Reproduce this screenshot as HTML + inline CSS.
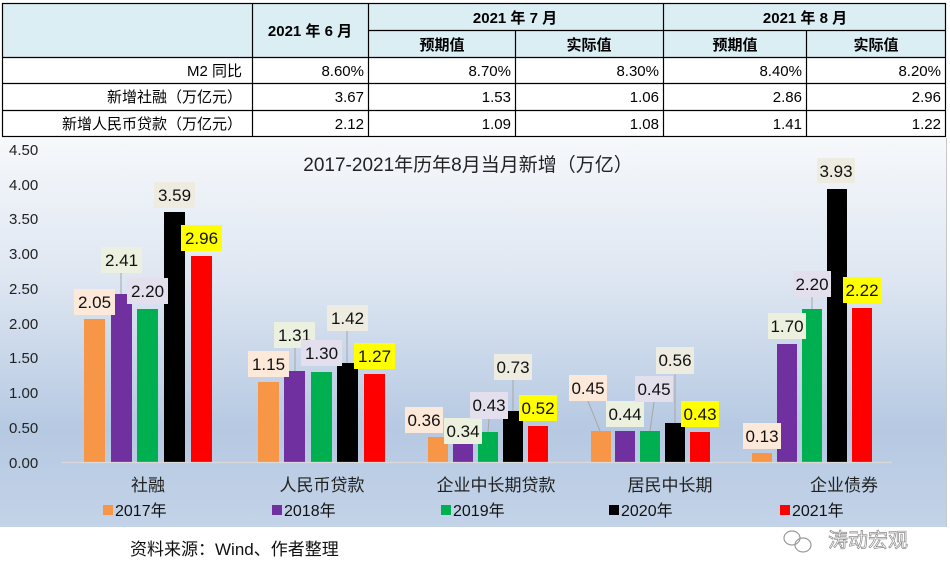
<!DOCTYPE html>
<html><head><meta charset="utf-8"><style>
html,body{margin:0;padding:0;background:#fff;}
svg{display:block;}
text{font-family:"Liberation Sans","Noto Sans CJK SC",sans-serif;}
.tb{font-family:"Liberation Serif","Noto Serif CJK SC","Noto Sans CJK SC",serif;font-size:15px;fill:#000;}
.tbh{font-family:"Liberation Serif","Noto Serif CJK SC","Noto Sans CJK SC",serif;font-size:15px;font-weight:bold;fill:#000;}
.ax{font-size:15px;fill:#222;}
.dl{font-size:17px;fill:#111;text-anchor:middle;}
.cat{font-size:17px;fill:#222;text-anchor:middle;}
.lg{font-size:16px;fill:#111;}
</style></head><body>
<svg width="950" height="578" viewBox="0 0 950 578" xmlns="http://www.w3.org/2000/svg">
<defs>
<linearGradient id="bg" x1="0" y1="0" x2="0" y2="1">
<stop offset="0" stop-color="#f6f8fb"/>
<stop offset="0.35" stop-color="#dfe7f2"/>
<stop offset="0.75" stop-color="#b6c9e2"/>
<stop offset="1" stop-color="#c3d3e8"/>
</linearGradient>
</defs>
<rect x="0" y="0" width="950" height="578" fill="#fff"/>
<rect x="0" y="138" width="946" height="389" fill="url(#bg)"/>
<line x1="946.5" y1="138" x2="946.5" y2="527" stroke="#c8c8c8"/>
<rect x="2" y="3" width="944" height="54" fill="#daeef3"/>
<g stroke="#000" stroke-width="1.2" fill="none">
<rect x="2.5" y="3.5" width="943" height="133"/>
<line x1="2" y1="57.5" x2="946" y2="57.5"/>
<line x1="2" y1="83.5" x2="946" y2="83.5"/>
<line x1="2" y1="110.5" x2="946" y2="110.5"/>
<line x1="252.5" y1="3" x2="252.5" y2="137"/>
<line x1="368.5" y1="3" x2="368.5" y2="137"/>
<line x1="663.5" y1="3" x2="663.5" y2="137"/>
<line x1="368" y1="30.5" x2="946" y2="30.5"/>
<line x1="515.5" y1="30" x2="515.5" y2="137"/>
<line x1="806.5" y1="30" x2="806.5" y2="137"/>
</g>
<g class="tbh" text-anchor="middle">
<text x="310" y="36">2021 年 6 月</text>
<text x="515" y="23">2021 年 7 月</text>
<text x="805" y="23">2021 年 8 月</text>
<text x="442" y="50">预期值</text>
<text x="589" y="50">实际值</text>
<text x="735" y="50">预期值</text>
<text x="876" y="50">实际值</text>
</g>
<g class="tb" text-anchor="end">
<text x="242" y="76">M2 同比</text>
<text x="242" y="102">新增社融（万亿元）</text>
<text x="242" y="129">新增人民币贷款（万亿元）</text>
<text x="364" y="76">8.60%</text><text x="511" y="76">8.70%</text><text x="659" y="76">8.30%</text><text x="802" y="76">8.40%</text><text x="941" y="76">8.20%</text>
<text x="364" y="102">3.67</text><text x="511" y="102">1.53</text><text x="659" y="102">1.06</text><text x="802" y="102">2.86</text><text x="941" y="102">2.96</text>
<text x="364" y="129">2.12</text><text x="511" y="129">1.09</text><text x="659" y="129">1.08</text><text x="802" y="129">1.41</text><text x="941" y="129">1.22</text>
</g>
<g class="ax">
<text x="9" y="155">4.50</text><text x="9" y="190">4.00</text><text x="9" y="224">3.50</text>
<text x="9" y="259">3.00</text><text x="9" y="294">2.50</text><text x="9" y="329">2.00</text>
<text x="9" y="363">1.50</text><text x="9" y="398">1.00</text><text x="9" y="433">0.50</text>
<text x="9" y="468">0.00</text>
</g>
<text x="468" y="171" font-size="19" fill="#222" text-anchor="middle">2017-2021年历年8月当月新增（万亿）</text>
<g>
<rect x="84" y="319" width="21" height="143" fill="#f79646"/>
<rect x="111" y="294" width="21" height="168" fill="#7030a0"/>
<rect x="137" y="309" width="21" height="153" fill="#00b050"/>
<rect x="164" y="212" width="21" height="250" fill="#000"/>
<rect x="191" y="256" width="21" height="206" fill="#ff0000"/>

<rect x="258" y="382" width="21" height="80" fill="#f79646"/>
<rect x="284" y="371" width="21" height="91" fill="#7030a0"/>
<rect x="311" y="372" width="21" height="90" fill="#00b050"/>
<rect x="337" y="363" width="21" height="99" fill="#000"/>
<rect x="364" y="374" width="21" height="88" fill="#ff0000"/>

<rect x="428" y="437" width="20" height="25" fill="#f79646"/>
<rect x="453" y="438" width="20" height="24" fill="#7030a0"/>
<rect x="478" y="432" width="20" height="30" fill="#00b050"/>
<rect x="503" y="411" width="20" height="51" fill="#000"/>
<rect x="528" y="426" width="20" height="36" fill="#ff0000"/>

<rect x="591" y="431" width="20" height="31" fill="#f79646"/>
<rect x="615" y="431" width="20" height="31" fill="#7030a0"/>
<rect x="640" y="431" width="20" height="31" fill="#00b050"/>
<rect x="665" y="423" width="20" height="39" fill="#000"/>
<rect x="690" y="432" width="20" height="30" fill="#ff0000"/>

<rect x="752" y="453" width="20" height="9" fill="#f79646"/>
<rect x="777" y="344" width="20" height="118" fill="#7030a0"/>
<rect x="802" y="309" width="20" height="153" fill="#00b050"/>
<rect x="827" y="189" width="20" height="273" fill="#000"/>
<rect x="852" y="308" width="20" height="154" fill="#ff0000"/>
</g>
<line x1="62" y1="462.5" x2="892" y2="462.5" stroke="#d9d9d9" stroke-width="1.2"/>
<g stroke="#a6a6a6" stroke-width="1">
<line x1="121" y1="273" x2="121" y2="294"/>
<line x1="295" y1="348" x2="295" y2="371"/>
<line x1="347" y1="331" x2="347" y2="363"/>
<line x1="489" y1="419" x2="488" y2="432"/>
<line x1="513" y1="380" x2="513" y2="411"/>
<line x1="588" y1="401" x2="600" y2="431"/>
<line x1="654" y1="402" x2="650" y2="431"/>
<line x1="675" y1="374" x2="675" y2="423"/>
<line x1="812" y1="297" x2="812" y2="309"/>
</g>
<g>
<rect x="74" y="289" width="41" height="26" fill="#fde9d9"/><text class="dl" x="94.5" y="308">2.05</text>
<rect x="101" y="247" width="41" height="26" fill="#ebf1de"/><text class="dl" x="121.5" y="266">2.41</text>
<rect x="127" y="278" width="41" height="26" fill="#e4dfec"/><text class="dl" x="147.5" y="297">2.20</text>
<rect x="154" y="182" width="41" height="26" fill="#eeece1"/><text class="dl" x="174.5" y="201">3.59</text>
<rect x="181" y="225" width="41" height="26" fill="#ffff00"/><text class="dl" x="201.5" y="244">2.96</text>

<rect x="248" y="351" width="41" height="26" fill="#fde9d9"/><text class="dl" x="268.5" y="370">1.15</text>
<rect x="274" y="322" width="41" height="26" fill="#ebf1de"/><text class="dl" x="294.5" y="341">1.31</text>
<rect x="301" y="340" width="41" height="26" fill="#e4dfec"/><text class="dl" x="321.5" y="359">1.30</text>
<rect x="327" y="305" width="41" height="26" fill="#eeece1"/><text class="dl" x="347.5" y="324">1.42</text>
<rect x="354" y="343" width="41" height="26" fill="#ffff00"/><text class="dl" x="374.5" y="362">1.27</text>

<rect x="405" y="407" width="38" height="26" fill="#fde9d9"/><text class="dl" x="424" y="426">0.36</text>
<rect x="444" y="418" width="38" height="26" fill="#ebf1de"/><text class="dl" x="463" y="437">0.34</text>
<rect x="470" y="392" width="38" height="27" fill="#e4dfec"/><text class="dl" x="489" y="411">0.43</text>
<rect x="494" y="354" width="38" height="26" fill="#eeece1"/><text class="dl" x="513" y="373">0.73</text>
<rect x="519" y="395" width="38" height="26" fill="#ffff00"/><text class="dl" x="538" y="414">0.52</text>

<rect x="569" y="375" width="38" height="26" fill="#fde9d9"/><text class="dl" x="588" y="394">0.45</text>
<rect x="606" y="401" width="38" height="26" fill="#ebf1de"/><text class="dl" x="625" y="420">0.44</text>
<rect x="635" y="376" width="38" height="26" fill="#e4dfec"/><text class="dl" x="654" y="395">0.45</text>
<rect x="656" y="347" width="38" height="27" fill="#eeece1"/><text class="dl" x="675" y="366">0.56</text>
<rect x="681" y="401" width="38" height="26" fill="#ffff00"/><text class="dl" x="700" y="420">0.43</text>

<rect x="743" y="423" width="38" height="26" fill="#fde9d9"/><text class="dl" x="762" y="442">0.13</text>
<rect x="768" y="313" width="38" height="26" fill="#ebf1de"/><text class="dl" x="787" y="332">1.70</text>
<rect x="793" y="271" width="38" height="26" fill="#e4dfec"/><text class="dl" x="812" y="290">2.20</text>
<rect x="817" y="158" width="38" height="25" fill="#eeece1"/><text class="dl" x="836" y="177">3.93</text>
<rect x="843" y="277" width="38" height="26" fill="#ffff00"/><text class="dl" x="862" y="296">2.22</text>
</g>
<g class="cat">
<text x="148" y="491">社融</text>
<text x="322" y="491">人民币贷款</text>
<text x="496" y="491">企业中长期贷款</text>
<text x="670" y="491">居民中长期</text>
<text x="844" y="491">企业债券</text>
</g>
<g class="lg">
<rect x="103" y="505" width="10" height="10" fill="#f79646"/><text x="115" y="516">2017年</text>
<rect x="272" y="505" width="10" height="10" fill="#7030a0"/><text x="284" y="516">2018年</text>
<rect x="441" y="505" width="10" height="10" fill="#00b050"/><text x="453" y="516">2019年</text>
<rect x="609" y="505" width="10" height="10" fill="#000"/><text x="621" y="516">2020年</text>
<rect x="780" y="505" width="10" height="10" fill="#ff0000"/><text x="792" y="516">2021年</text>
</g>
<text x="130" y="555" font-size="17" fill="#111">资料来源：Wind、作者整理</text>
<g fill="none" stroke="#9a9a9a" stroke-width="1.2">
<ellipse cx="792" cy="538" rx="8" ry="7"/>
<ellipse cx="803" cy="545" rx="8" ry="7"/>
</g>
<text x="828" y="547" font-size="20" fill="#fff" stroke="#8a8a8a" stroke-width="0.7">涛动宏观</text>
</svg>
</body></html>
